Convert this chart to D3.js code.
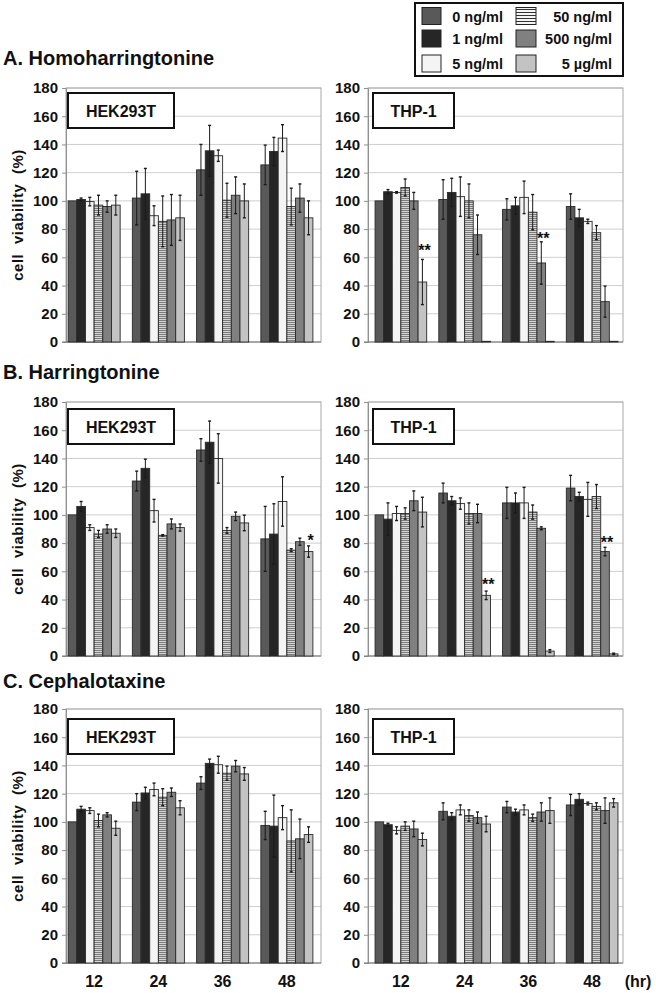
<!DOCTYPE html>
<html><head><meta charset="utf-8">
<script src="https://cdn.jsdelivr.net/npm/d3@7"></script>
<style>
html,body{margin:0;padding:0;background:#fff;}
svg{display:block;font-family:"Liberation Sans",Arial,sans-serif;}
</style></head>
<body>
<script>
// ---------------- DATA ----------------
const timepoints = ["12", "24", "36", "48"];
const concentrations = ["0 ng/ml", "1 ng/ml", "5 ng/ml", "50 ng/ml", "500 ng/ml", "5 µg/ml"];
const yTicks = [0, 20, 40, 60, 80, 100, 120, 140, 160, 180];
const drugTitles = ["A. Homoharringtonine", "B. Harringtonine", "C. Cephalotaxine"];
const cellLines = ["HEK293T", "THP-1"];

// mean values: one row per timepoint, columns = concentrations
const homoHEKMean = [[100, 101, 99.5, 97, 96, 97], [102, 105, 89.5, 85.5, 86.5, 88], [122, 135.5, 132, 100.5, 104, 100], [125.5, 135, 144.5, 96, 102, 88]];
const homoHEKErr  = [[0, 1, 3, 7, 4, 7], [19, 18, 7, 18, 18, 16], [18, 18, 4, 12, 13, 12], [14, 10, 9.5, 13, 10, 12]];
const homoTHPMean = [[100, 106.5, 106, 109.5, 100, 42.5], [101, 106, 103, 100, 76, 0.5], [94, 96.5, 102.5, 92, 56, 0.5], [96, 88, 85.5, 77.5, 28.6, 0.5]];
const homoTHPErr  = [[0, 1.5, 0.5, 6, 6, 16], [14, 10, 14, 12, 14, 0], [7.5, 6, 11.5, 12.5, 15, 0], [9, 6, 1.5, 5, 11, 0]];
const harrHEKMean = [[100, 106, 91, 86.5, 90, 87], [124, 133, 103, 85.5, 93.6, 91], [146, 151.5, 140, 89, 99, 94.3], [83, 86.4, 109.5, 75, 81, 74]];
const harrHEKErr  = [[0, 3.5, 2, 2.5, 3, 3], [7, 6.5, 8, 0.5, 3.5, 2.5], [8, 15, 17.5, 2, 3, 5.5], [23, 21.5, 17.5, 1, 2.5, 4]];
const harrTHPMean = [[100, 97, 101, 101, 110, 102], [115.5, 110, 108, 101, 101, 43], [108.5, 108.5, 108.5, 102, 90.5, 3.5], [119, 113, 111, 113, 74, 1.5]];
const harrTHPErr  = [[0, 11.5, 5, 4, 7, 10.5], [7, 3, 4, 7.5, 6.5, 3], [11, 7, 11, 5, 1, 1], [9, 3, 12, 8.5, 3, 0.5]];
const cephHEKMean = [[100, 109, 108, 101, 105, 95.5], [114, 120.5, 123, 117.5, 121, 110], [127.5, 141.5, 140.5, 134.5, 139.5, 134], [97.5, 97, 103, 86.5, 88, 91]];
const cephHEKErr  = [[0, 2, 2, 4.5, 1.5, 5], [6, 4, 4.5, 6, 3, 5], [4.5, 3, 6, 5, 4, 4.5], [10, 22, 8.5, 22, 14, 5.5]];
const cephTHPMean = [[100, 98, 94, 97, 95, 87.5], [107.5, 104, 108.5, 104.5, 103, 98.5], [110.5, 107, 108.5, 103, 107, 108], [112, 116, 113, 111, 108, 113.5]];
const cephTHPErr  = [[0, 1, 2.5, 3, 5.5, 4.5], [6, 2.5, 3.5, 4, 4, 5.5], [4, 2, 3.5, 2.5, 6.5, 9], [7.5, 4, 1, 2.5, 9, 3]];

// significance marks: [timepoint index, concentration index, label, y-value of mark centre]
const homoTHPStars = [[0, 5, "**", 67], [2, 4, "**", 76]];
const harrHEKStars = [[3, 5, "*", 84.5]];
const harrTHPStars = [[1, 5, "**", 53], [3, 4, "**", 83]];

const panels = [
  [homoHEKMean, homoHEKErr, []], [homoTHPMean, homoTHPErr, homoTHPStars],
  [harrHEKMean, harrHEKErr, harrHEKStars], [harrTHPMean, harrTHPErr, harrTHPStars],
  [cephHEKMean, cephHEKErr, []], [cephTHPMean, cephTHPErr, []]
];

// ---------------- LAYOUT ----------------
const W = 656, H = 993;
const rowTop = [88, 402, 709];
const plotH = 254;
const titleBaseline = [65, 379, 688];
const frameX = [[66, 321], [368, 623]];
const bandRange = [[62, 319], [369, 624]];
const boxX = [[68, 174], [373, 454]];
const boxOffset = [5, 7, 10];
const boxH = 35;
const fills = ["#595959", "#262626", "#f4f4f4", "url(#stripes)", "#808080", "#c3c3c3"];
const legendFills = ["#595959", "#262626", "#f4f4f4", "url(#stripesL)", "#808080", "#c3c3c3"];

const svg = d3.select("body").append("svg").attr("width", W).attr("height", H);
svg.append("rect").attr("width", W).attr("height", H).attr("fill", "#fff");

const defs = svg.append("defs");
function stripes(id, period, dark, light) {
  const p = defs.append("pattern").attr("id", id).attr("patternUnits", "userSpaceOnUse")
    .attr("width", 8).attr("height", period);
  p.append("rect").attr("width", 8).attr("height", period).attr("fill", light);
  p.append("rect").attr("width", 8).attr("height", 1).attr("fill", dark);
}
stripes("stripes", 2, "#7c7c7c", "#d4d4d4");
stripes("stripesL", 3, "#333", "#f4f4f4");

// titles
drugTitles.forEach((t, r) => {
  svg.append("text").attr("x", 3).attr("y", titleBaseline[r])
    .attr("font-size", 20).attr("font-weight", "bold").attr("fill", "#111").text(t);
});

panels.forEach((p, idx) => {
  const r = Math.floor(idx / 2), c = idx % 2;
  const [means, errs, stars] = p;
  const top = rowTop[r], bottom = top + plotH;
  const x0 = frameX[c][0], x1 = frameX[c][1];
  const y = d3.scaleLinear().domain([0, 180]).range([bottom, top]);
  const xb = d3.scaleBand().domain(timepoints).range(bandRange[c]).paddingInner(0.19).paddingOuter(0.095);
  const xs = d3.scaleBand().domain(concentrations).range([0, xb.bandwidth()]);
  const g = svg.append("g");

  // grid
  g.append("g").selectAll("line").data(yTicks.slice(1)).join("line")
    .attr("x1", x0).attr("x2", x1).attr("y1", d => y(d)).attr("y2", d => y(d))
    .attr("stroke", "#cfcfcf").attr("stroke-width", 1);
  // frame
  g.append("rect").attr("x", x0).attr("y", top).attr("width", x1 - x0).attr("height", plotH)
    .attr("fill", "none").attr("stroke", "#a8a8a8").attr("stroke-width", 1);

  // y axis
  const ax = g.append("g").attr("transform", `translate(${x0},0)`)
    .call(d3.axisLeft(y).tickValues(yTicks).tickSize(4).tickPadding(4));
  ax.select(".domain").attr("stroke", "#909090");
  ax.selectAll(".tick line").attr("stroke", "#909090");
  ax.selectAll(".tick text").attr("font-size", 15).attr("font-weight", "bold").attr("fill", "#111")
    .attr("font-family", "Liberation Sans, Arial, sans-serif");
  // bottom axis line
  g.append("line").attr("x1", x0 - 4).attr("x2", x1).attr("y1", bottom).attr("y2", bottom)
    .attr("stroke", "#7a7a7a").attr("stroke-width", 1.2);

  // bars
  timepoints.forEach((tp, ti) => {
    const gg = g.append("g").attr("transform", `translate(${xb(tp)},0)`);
    gg.selectAll("rect").data(means[ti]).join("rect")
      .attr("x", (d, i) => xs(concentrations[i]))
      .attr("y", d => y(d))
      .attr("width", xs.bandwidth())
      .attr("height", d => bottom - y(d))
      .attr("fill", (d, i) => fills[i])
      .attr("stroke", "#2a2a2a").attr("stroke-width", 0.9);
    // error bars
    means[ti].forEach((m, i) => {
      const e = errs[ti][i];
      if (e <= 0) return;
      const cx = xs(concentrations[i]) + xs.bandwidth() / 2;
      gg.append("line").attr("x1", cx).attr("x2", cx).attr("y1", y(m + e)).attr("y2", y(Math.max(0, m - e)))
        .attr("stroke", "#1a1a1a").attr("stroke-width", 1);
      [m + e, Math.max(0, m - e)].forEach(v => {
        gg.append("line").attr("x1", cx - 1.5).attr("x2", cx + 1.5).attr("y1", y(v)).attr("y2", y(v))
          .attr("stroke", "#1a1a1a").attr("stroke-width", 1.4);
      });
    });
  });

  // stars
  stars.forEach(([ti, ci, lab, v]) => {
    const cx = xb(timepoints[ti]) + xs(concentrations[ci]) + xs.bandwidth() / 2 + 2;
    g.append("text").attr("x", cx).attr("y", y(v) + 9).attr("text-anchor", "middle")
      .attr("font-size", 16).attr("font-weight", "bold").attr("fill", "#111").text(lab);
  });

  // cell line box
  const by = top + boxOffset[r];
  g.append("rect").attr("x", boxX[c][0]).attr("y", by).attr("width", boxX[c][1] - boxX[c][0]).attr("height", boxH)
    .attr("fill", "#fff").attr("stroke", "#111").attr("stroke-width", 2);
  g.append("text").attr("x", (boxX[c][0] + boxX[c][1]) / 2).attr("y", by + boxH / 2 + 6)
    .attr("text-anchor", "middle").attr("font-size", 16).attr("font-weight", "bold").attr("fill", "#111")
    .text(cellLines[c]);

  // y label
  if (c === 0) {
    g.append("text").attr("transform", `translate(23,${(top + bottom) / 2}) rotate(-90)`)
      .attr("text-anchor", "middle").attr("font-size", 15).attr("font-weight", "bold")
      .attr("letter-spacing", 0.5).attr("word-spacing", 5).attr("fill", "#111")
      .text("cell viability (%)");
  }
  // x labels on bottom row
  if (r === 2) {
    g.selectAll(".xl").data(timepoints).join("text")
      .attr("x", d => xb(d) + xb.bandwidth() / 2).attr("y", 987)
      .attr("text-anchor", "middle").attr("font-size", 16).attr("font-weight", "bold").attr("fill", "#111")
      .text(d => d);
    if (c === 1) {
      g.append("text").attr("x", 638).attr("y", 987).attr("text-anchor", "middle")
        .attr("font-size", 16).attr("font-weight", "bold").attr("fill", "#111").text("(hr)");
    }
  }
});

// legend
const lg = svg.append("g");
lg.append("rect").attr("x", 415).attr("y", 3).attr("width", 208).attr("height", 73)
  .attr("fill", "#fff").attr("stroke", "#111").attr("stroke-width", 2);
const legRowY = [16, 38.5, 63.5];
const legSwX = [422, 516];
const legTextX = [503, 612];
concentrations.forEach((cName, i) => {
  const col = i < 3 ? 0 : 1, row = i % 3;
  lg.append("rect").attr("x", legSwX[col]).attr("y", legRowY[row] - 8.5).attr("width", col ? 20 : 19).attr("height", 17)
    .attr("fill", legendFills[i]).attr("stroke", "#222").attr("stroke-width", 1);
  lg.append("text").attr("x", legTextX[col]).attr("y", legRowY[row] + 5.5).attr("text-anchor", "end")
    .attr("font-size", 14.5).attr("font-weight", "bold").attr("fill", "#111").text(cName);
});
</script>
</body></html>
